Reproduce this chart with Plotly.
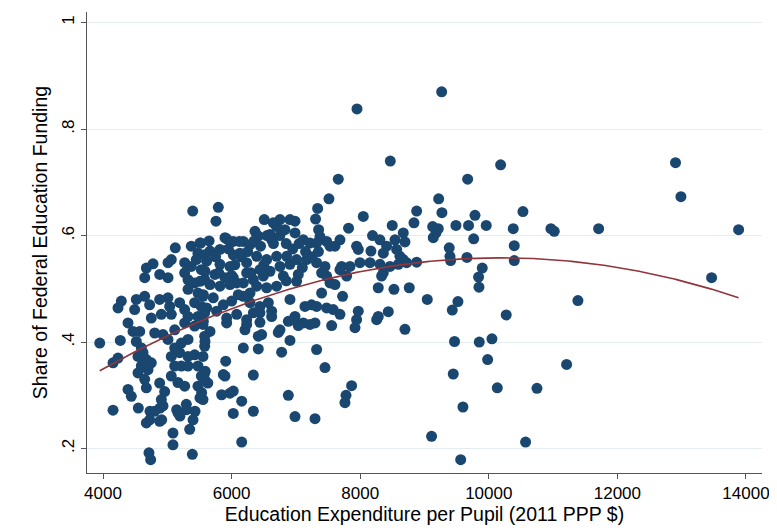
import numpy as np
import plotly.graph_objects as go

# Education expenditure per pupil (2011 PPP $) and share of federal education funding
expenditure = [
    13885, 13465, 12988, 12904, 11708, 11386, 11210, 10749, 10572, 11018, 10966, 10531,
    10396, 10396, 10380, 10184, 10271, 10132, 9982, 10049, 9852, 9960, 9898, 9841,
    9847, 9785, 9765, 9685, 9671, 9660, 9598, 9563, 9520, 9489, 9467, 9447,
    9432, 9406, 9396, 9385, 9271, 9267, 9220, 9214, 9178, 9136, 9127, 9110,
    9043, 8878, 8836, 8878, 8763, 8722, 8696, 8696, 8670, 8670, 8618, 8593,
    8567, 8541, 8525, 8498, 8468, 8463, 8437, 8411, 8359, 8359, 8333, 8307,
    8307, 8281, 8281, 8256, 8192, 8167, 8152, 8048, 7996, 7970, 7970, 7950,
    7944, 7944, 7919, 7866, 7841, 7819, 7789, 7779, 7763, 7726, 7711, 7685,
    7685, 7685, 7659, 7608, 7608, 7581, 7556, 7530, 7530, 7514, 7478, 7478,
    7478, 7452, 7452, 7400, 7400, 7374, 7353, 7338, 7322, 7322, 7322, 7322,
    7306, 7297, 7297, 7244, 7219, 7219, 7167, 7141, 7115, 7115, 7037, 7037,
    7011, 7011, 6986, 6986, 6986, 6986, 6960, 6908, 6908, 6908, 6908, 6882,
    6882, 6856, 6830, 6804, 6778, 6752, 6752, 6752, 6726, 6700, 6700, 6648,
    6623, 6623, 6623, 6597, 6597, 6571, 6545, 6545, 6508, 6493, 6467, 6441,
    6441, 6441, 6441, 6415, 6415, 6415, 6390, 6390, 6364, 6338, 6338, 6338,
    6338, 6286, 6286, 6286, 6234, 6234, 6234, 6234, 6208, 6182, 6182, 6182,
    6182, 6157, 6157, 6130, 6120, 6104, 6079, 6079, 6026, 6026, 6026, 6026,
    6026, 6001, 5975, 5975, 5975, 5923, 5923, 5923, 5908, 5897, 5897, 5897,
    5871, 5871, 5845, 5819, 5819, 5819, 5793, 5767, 5757, 5741, 5715, 5664,
    5664, 5664, 5630, 5612, 5612, 5590, 5586, 5586, 5581, 5581, 5581, 5581,
    5581, 5581, 5581, 5560, 5560, 5555, 5555, 5555, 5555, 5534, 5529, 5529,
    5529, 5519, 5508, 5508, 5508, 5477, 5477, 5477, 5477, 5477, 5431, 5425,
    5425, 5425, 5425, 5400, 5395, 5389, 5373, 5373, 5348, 5322, 5322, 5322,
    5322, 5322, 5322, 5301, 5296, 5270, 5270, 5270, 5270, 5270, 5218, 5218,
    5197, 5192, 5192, 5166, 5166, 5146, 5124, 5115, 5115, 5115, 5088, 5088,
    5062, 5062, 5062, 5062, 5037, 5011, 5011, 5010, 5010, 4959, 4933, 4933,
    4913, 4907, 4907, 4887, 4882, 4881, 4881, 4881, 4804, 4804, 4778, 4751,
    4751, 4741, 4731, 4725, 4725, 4715, 4700, 4674, 4674, 4674, 4674, 4649,
    4648, 4648, 4622, 4571, 4596, 4596, 4549, 4544, 4544, 4518, 4518, 4492,
    4467, 4440, 4389, 4389, 4285, 4269, 4233, 4233, 4156, 4156, 3949,
    5450, 5650, 5750, 5950, 6050, 6150, 6250, 6350, 6450, 6550, 6650, 6750,
    6850, 6950, 7050, 7150, 7250, 7350, 6300, 6500, 6700, 6850, 7100, 5800,
    6000,
]
federal_share = [
    .611, .521, .673, .737, .613, .478, .358, .313, .212, .608, .613, .645,
    .581, .553, .613, .733, .451, .314, .367, .406, .400, .619, .539, .522,
    .503, .638, .594, .619, .706, .559, .278, .179, .476, .619, .401, .340,
    .460, .553, .561, .577, .643, .870, .669, .613, .605, .596, .617, .223,
    .480, .646, .624, .550, .502, .549, .588, .424, .605, .555, .561, .546,
    .574, .592, .499, .619, .740, .542, .457, .580, .567, .530, .524, .592,
    .546, .502, .448, .442, .600, .571, .549, .636, .549, .574, .458, .838,
    .580, .442, .427, .318, .542, .614, .524, .300, .286, .486, .542, .592,
    .536, .452, .706, .580, .508, .461, .431, .580, .511, .669, .589, .524,
    .464, .542, .352, .530, .492, .598, .611, .651, .586, .549, .467, .386,
    .631, .436, .256, .470, .586, .433, .555, .467, .592, .436, .527, .431,
    .555, .514, .627, .605, .448, .260, .442, .630, .546, .480, .403, .439,
    .300, .561, .611, .524, .381, .630, .542, .423, .418, .617, .561, .624,
    .592, .458, .448, .602, .533, .474, .555, .502, .630, .524, .414, .536,
    .467, .455, .437, .599, .411, .387, .561, .505, .608, .517, .455, .338,
    .270, .583, .492, .474, .549, .530, .442, .433, .423, .589, .511, .486,
    .389, .289, .212, .567, .589, .489, .511, .452, .589, .564, .521, .308,
    .266, .477, .542, .508, .304, .594, .445, .436, .364, .596, .521, .336,
    .470, .339, .301, .574, .546, .505, .653, .458, .627, .527, .483, .571,
    .508, .420, .323, .552, .464, .345, .533, .401, .564, .517, .455, .411,
    .392, .342, .330, .489, .439, .486, .433, .373, .292, .305, .536, .467,
    .336, .586, .514, .295, .586, .567, .492, .448, .355, .317, .270, .511,
    .474, .430, .376, .254, .646, .189, .580, .542, .236, .517, .499, .448,
    .405, .373, .355, .273, .283, .549, .530, .461, .436, .317, .398, .355,
    .261, .474, .380, .324, .267, .273, .577, .389, .355, .423, .229, .207,
    .555, .452, .373, .336, .467, .549, .521, .483, .405, .307, .414, .280,
    .254, .452, .292, .276, .527, .480, .323, .251, .417, .270, .547, .445,
    .361, .179, .270, .470, .254, .192, .348, .539, .367, .314, .248, .521,
    .486, .330, .380, .420, .389, .355, .276, .373, .342, .480, .401, .461,
    .420, .298, .436, .311, .477, .403, .464, .370, .361, .272, .398,
    .555, .590, .560, .575, .545, .560, .570, .590, .580, .600, .585, .600,
    .585, .575, .585, .570, .560, .570, .530, .545, .505, .515, .540, .530,
    .525,
]

x_tick_vals = [4000, 6000, 8000, 10000, 12000, 14000]
x_tick_text = ["4000", "6000", "8000", "10000", "12000", "14000"]
y_tick_vals = [0.2, 0.4, 0.6, 0.8, 1.0]
y_tick_text = [".2", ".4", ".6", ".8", "1"]

x = np.array(expenditure, dtype=float)
y = np.array(federal_share, dtype=float)
coef = np.polyfit(x, y, 2)
xfit = np.linspace(x.min(), x.max(), 200)
yfit = np.polyval(coef, xfit)

fig = go.Figure()
fig.add_trace(go.Scatter(
    x=x, y=y, mode="markers",
    marker=dict(color="#1a476f", size=11, line=dict(width=0)),
    showlegend=False, hoverinfo="skip",
))
fig.add_trace(go.Scatter(
    x=xfit, y=yfit, mode="lines",
    line=dict(color="#90353b", width=1.6),
    showlegend=False, hoverinfo="skip",
))

font_family = "Liberation Sans, Arial, sans-serif"
fig.update_layout(
    width=777, height=531,
    margin=dict(l=79, r=23, t=4, b=66),
    paper_bgcolor="white", plot_bgcolor="white",
    font=dict(family=font_family, size=17, color="black"),
    xaxis=dict(
        range=[3751, 14249], tickvals=x_tick_vals, ticktext=x_tick_text,
        automargin=False,
        showgrid=False, zeroline=False,
        showline=True, linecolor="#555555", linewidth=1,
        ticks="outside", ticklen=5, tickcolor="#555555",
        tickfont=dict(size=17),
        title=dict(text="Education Expenditure per Pupil (2011 PPP $)",
                   font=dict(size=19.5), standoff=3),
    ),
    yaxis=dict(
        range=[0.154, 1.02], tickvals=y_tick_vals, ticktext=y_tick_text,
        tickangle=-90, automargin=False,
        showgrid=True, gridcolor="#e4eef0", gridwidth=1,
        zeroline=False,
        showline=True, linecolor="#555555", linewidth=1,
        ticks="outside", ticklen=5, tickcolor="#555555",
        tickfont=dict(size=17),
        title=dict(text="Share of Federal Education Funding",
                   font=dict(size=19.5), standoff=6),
    ),
)

fig.write_html("out.html")
